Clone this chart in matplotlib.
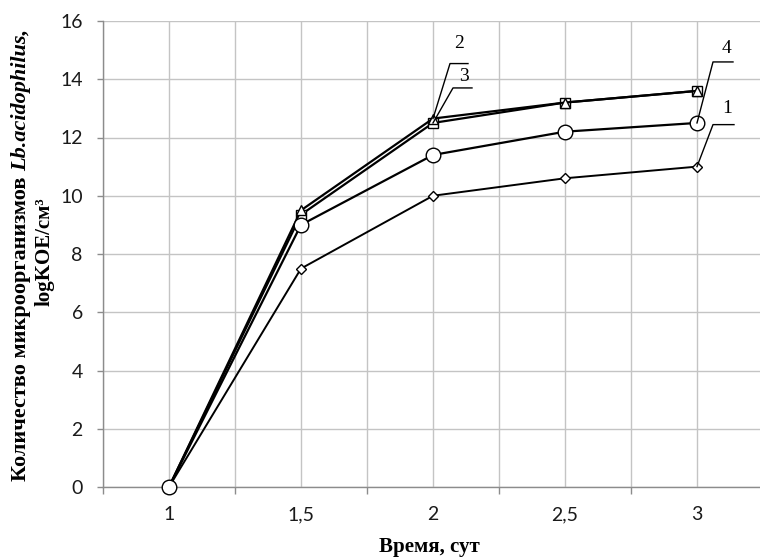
import matplotlib

matplotlib.use("Agg")
import matplotlib.pyplot as plt
from matplotlib.lines import Line2D
from matplotlib.ticker import FixedLocator

# Time categories (Excel category axis)
days = ["1", "1,5", "2", "2,5", "3"]

series_1 = [0, 7.5, 10.0, 10.6, 11.0]
series_2 = [0, 9.5, 12.65, 13.2, 13.6]
series_3 = [0, 9.35, 12.5, 13.2, 13.6]
series_4 = [0, 9.0, 11.4, 12.2, 12.5]

y_ticks = [0, 2, 4, 6, 8, 10, 12, 14, 16]

W, H = 760, 559
fig = plt.figure(figsize=(W / 100, H / 100), dpi=100)
left, right, top, bottom = 103, 763, 21, 487
ax = fig.add_axes([left / W, (H - bottom) / H, (right - left) / W, (bottom - top) / H])

x = list(range(len(days)))
ax.set_xlim(-0.5, len(days) - 0.5)
ax.set_ylim(0, 16)

grid_c = "#c4c4c4"
axis_c = "#8c8c8c"

# gridlines at category centres and boundaries
ax.xaxis.set_major_locator(FixedLocator(x))
ax.xaxis.set_minor_locator(FixedLocator([i - 0.5 for i in range(len(days) + 1)]))
ax.set_xticklabels(days)
ax.set_yticks(y_ticks)
ax.grid(True, which="both", axis="x", color=grid_c, linewidth=1.0, zorder=0)
ax.grid(True, which="major", axis="y", color=grid_c, linewidth=1.0, zorder=0)
ax.set_axisbelow(True)

for s in ("top", "right"):
    ax.spines[s].set_visible(False)
for s in ("left", "bottom"):
    ax.spines[s].set_color(axis_c)
    ax.spines[s].set_linewidth(1.0)

ax.tick_params(axis="x", which="major", length=0, pad=14)
ax.tick_params(axis="x", which="minor", length=5, width=1.0, color=axis_c, direction="out")
ax.tick_params(axis="y", length=4.5, width=1.0, color=axis_c, direction="out", pad=10)
for lab in ax.get_xticklabels() + ax.get_yticklabels():
    lab.set_fontfamily("Lato")
    lab.set_fontsize(14)
    lab.set_color("#1a1a1a")

line_kw = dict(color="black", markeredgecolor="black", markerfacecolor="white",
               markeredgewidth=1.0, clip_on=False)
ax.plot(x, series_1, marker="D", markersize=5, linewidth=1.4, zorder=3, **line_kw)
ax.plot(x, series_3, marker="s", markersize=7, linewidth=1.6, zorder=5, **line_kw)
ax.plot(x, series_2, marker="^", markersize=6.5, linewidth=1.6, zorder=6, **line_kw)
ax.plot(x, series_4, marker="o", markersize=10.5, linewidth=1.6, zorder=7, **line_kw)


def leader(xi, yi, elbow, seg, label, text_off):
    # leader line drawn in pixels from the data point
    x0, y0 = ax.transData.transform((xi, yi))
    ex, ey = x0 + elbow[0], y0 - elbow[1]
    fig.add_artist(Line2D([x0, ex, ex + seg], [y0, ey, ey], transform=None,
                          color="black", linewidth=1.0, zorder=2))
    fig.text((ex + text_off[0]) / W, (ey - text_off[1]) / H, label,
             fontfamily="Liberation Serif", fontsize=14, ha="center", va="center")


leader(2, series_2[2], (17, -55), 18, "2", (9, -20))
leader(2, series_3[2], (20, -35), 19, "3", (11, -11))
leader(4, series_4[4], (16, -61), 20, "4", (13, -13))
leader(4, series_1[4], (16, -42), 21, "1", (14, -16))

lab_kw = dict(fontfamily="Liberation Serif", fontweight="bold", fontsize=15)
fig.text(429 / W, 1 - 547 / H, "Время, сут", ha="center", va="center", **lab_kw)

# y label: first line mixes upright and italic parts, built from two rotated texts
renderer = fig.canvas.get_renderer()
y_start = H - 481
line1_kw = dict(lab_kw, fontsize=16)
part1 = fig.text(26 / W, y_start / H, "Количество микроорганизмов ", rotation=90,
                 rotation_mode="anchor", ha="left", va="baseline", **line1_kw)
h1 = part1.get_window_extent(renderer).height
fig.text(26 / W, (y_start + h1) / H, "Lb.acidophilus,", rotation=90,
         rotation_mode="anchor", ha="left", va="baseline", fontstyle="italic", **line1_kw)
fig.text(50 / W, 1 - 252 / H, "logKOE/см³", rotation=90,
         rotation_mode="anchor", ha="center", va="baseline", **lab_kw)

fig.savefig("out.png", dpi=100)
